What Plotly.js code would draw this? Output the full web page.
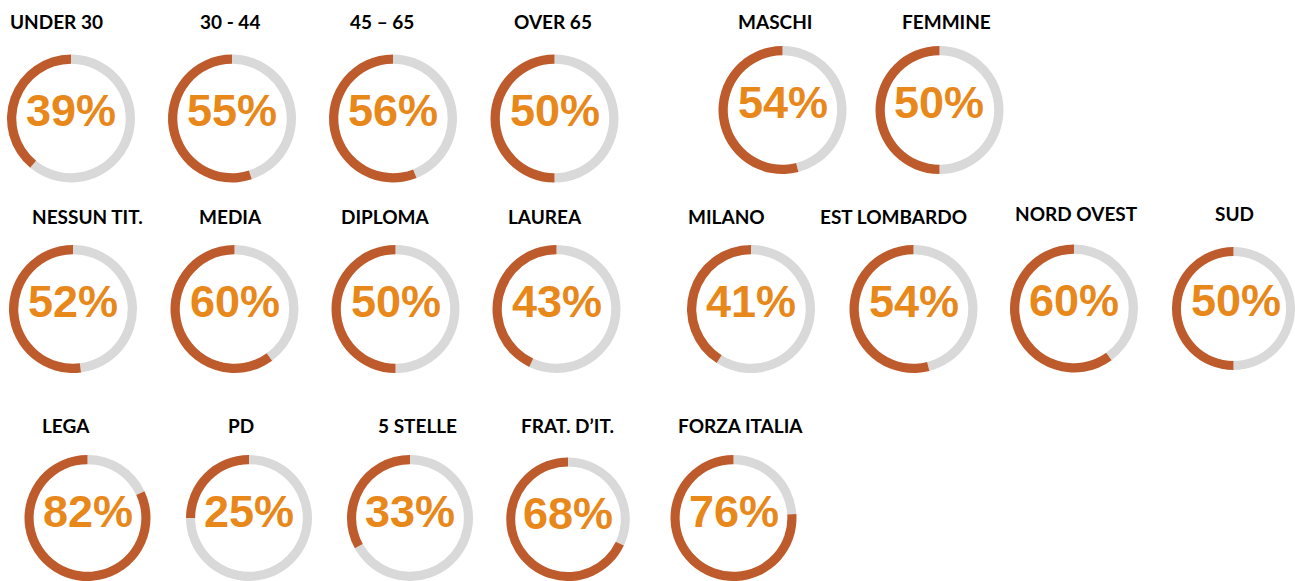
<!DOCTYPE html>
<html>
<head>
<meta charset="utf-8">
<script src="https://cdn.plot.ly/plotly-3.0.1.min.js"></script>
<style>
html,body{margin:0;padding:0;background:#fff;}
#chart{width:1295px;height:581px;}
</style>
</head>
<body>
<div id="chart"></div>
<script>
// ---- data ----
const categories = ["UNDER 30","30 - 44","45 – 65","OVER 65","MASCHI","FEMMINE",
  "NESSUN TIT.","MEDIA","DIPLOMA","LAUREA","MILANO","EST LOMBARDO","NORD OVEST","SUD",
  "LEGA","PD","5 STELLE","FRAT. D’IT.","FORZA ITALIA"];
const shares = [39,55,56,50,54,50, 52,60,50,43,41,54,60,50, 82,25,33,68,76];

// ---- layout (pixel positions of each donut and its label) ----
const W = 1295, H = 581, R = 64;
const centers = [
  [71,118.5],[232,118.5],[393,118.5],[554.5,118.5],[782.5,110],[939.5,110],
  [73,309],[234.5,309],[395.5,309],[556.5,309],[751,309],[913.5,309],[1074,308.5],[1236,308.5],
  [87.5,519],[249,519],[410,519],[568,521.5],[733.5,519]
];
const labelPos = [
  [56,22],[230,22],[382,22],[553,22],[775,22],[946,22],
  [87.5,216],[230,216],[385,216],[545,216],[726,216],[893,216],[1076,214],[1234,214],
  [66,425],[241,425],[417,425],[567.5,426],[741,425]
];

const BROWN = "#BE5B2C", GRAY = "#D9D9D9", ORANGE = "#E8871A";

const traces = [];
const annotations = [];
categories.forEach((cat, i) => {
  const [cx, cy] = centers[i];
  const v = shares[i];
  traces.push({
    type: "pie",
    values: [100 - v, v],
    labels: ["no", "sì"],
    sort: false,
    direction: "clockwise",
    rotation: 0,
    hole: 0.855,
    textinfo: "none",
    hoverinfo: "skip",
    showlegend: false,
    marker: {colors: [GRAY, BROWN], line: {width: 0}},
    domain: {
      x: [(cx - R) / W, (cx + R) / W],
      y: [(H - (cy + R)) / H, (H - (cy - R)) / H]
    }
  });
  annotations.push({
    text: "<b>" + v + "%</b>",
    x: cx / W, y: (H - (cy - 8)) / H,
    xref: "paper", yref: "paper",
    xanchor: "center", yanchor: "middle",
    showarrow: false,
    font: {family: "'Liberation Sans', Arial, sans-serif", size: 45, color: ORANGE}
  });
  const [lx, ly] = labelPos[i];
  annotations.push({
    text: "<b>" + cat + "</b>",
    x: lx / W, y: (H - ly) / H,
    xref: "paper", yref: "paper",
    xanchor: "center", yanchor: "middle",
    showarrow: false,
    font: {family: "Lato, 'Open Sans', sans-serif", size: 19, color: "#000"}
  });
});

Plotly.newPlot("chart", traces, {
  width: W, height: H,
  margin: {l: 0, r: 0, t: 0, b: 0},
  paper_bgcolor: "#fff",
  annotations: annotations
}, {displayModeBar: false, staticPlot: true});
</script>
</body>
</html>
